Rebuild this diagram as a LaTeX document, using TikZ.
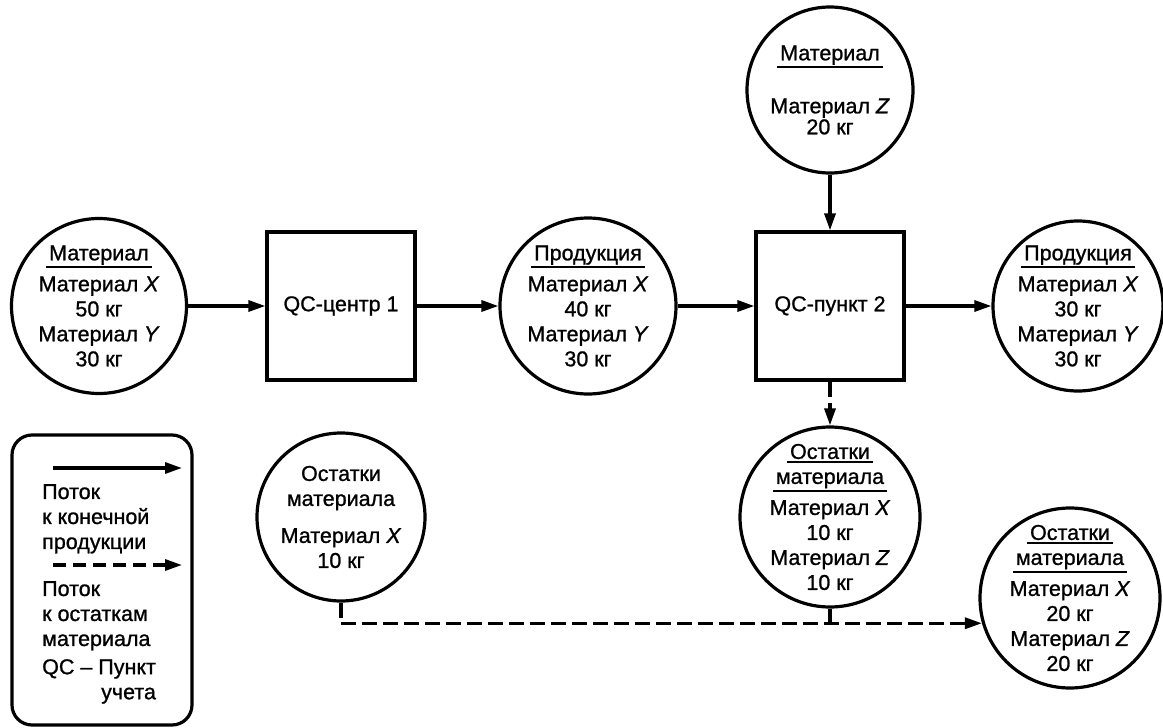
\documentclass[tikz,border=0pt]{standalone}
\usepackage{fontspec}
\setmainfont{Liberation Sans}[UprightFeatures={FakeBold=1},ItalicFeatures={FakeBold=1}]
\usetikzlibrary{arrows.meta}

\newcommand{\hdrline}[1]{\vtop{\hbox{\kern3pt#1\kern3pt}\kern1.5pt\hrule height 2pt}}

\tikzset{
	flow/.style={line width=3.2pt,-{Triangle[length=17pt,width=11pt]}},
	restline/.style={line width=3.2pt,dash pattern=on 15pt off 6pt},
	rest/.style={restline,-{Triangle[length=17pt,width=11pt]}},
	stock/.style={draw,circle,line width=3.2pt,inner sep=-25pt,align=center},
	qc/.style={draw,rectangle,line width=3.2pt,minimum width=148pt,minimum height=148pt}
}

\begin{document}
\begin{tikzpicture}[x=1pt,y=-1pt,font=\fontsize{21.5}{25}\selectfont]
	\useasboundingbox (0,0) rectangle (1163,728);

	% main row
	\node[stock,minimum size=175pt] (mat1) at (99,306) {\hdrline{Материал}\\[6pt]Материал \textit{X}\\50 кг\\Материал \textit{Y}\\30 кг};
	\node[qc] (qc1) at (341,306) {QC-центр 1};
	\node[stock,minimum size=176pt] (prod1) at (588,306) {\hdrline{Продукция}\\[6pt]Материал \textit{X}\\40 кг\\Материал \textit{Y}\\30 кг};
	\node[qc] (qc2) at (830,306) {QC-пункт 2};
	\node[stock,minimum size=170pt] (prod2) at (1078,306) {\hdrline{Продукция}\\[6pt]Материал \textit{X}\\30 кг\\Материал \textit{Y}\\30 кг};
	\node[stock,minimum size=166pt] (mat2) at (830,90) {\hdrline{Материал}\\[28pt]Материал \textit{Z}\\[-4pt]20 кг};

	% remnants
	\node[stock,minimum size=168pt] (rest1) at (341,517) {Остатки\\материала\\[12pt]Материал \textit{X}\\10 кг};
	\node[stock,minimum size=180pt] (rest2) at (830,517) {\hdrline{Остатки}\\\hdrline{материала}\\[6pt]Материал \textit{X}\\10 кг\\Материал \textit{Z}\\10 кг};
	\node[stock,minimum size=180pt] (rest3) at (1070,598) {\hdrline{Остатки}\\\hdrline{материала}\\[6pt]Материал \textit{X}\\20 кг\\Материал \textit{Z}\\20 кг};

	\draw[flow] (mat1) -- (qc1);
	\draw[flow] (qc1) -- (prod1);
	\draw[flow] (prod1) -- (qc2);
	\draw[flow] (qc2) -- (prod2);
	\draw[flow] (mat2) -- (qc2);
	\draw[rest] (qc2) -- (rest2);
	\draw[rest] (rest1.south) |- (rest3.196);
	\draw[restline] (rest2.south) -- (rest2.south |- rest3.196);

	% legend
	\node[draw,rounded corners=20pt,line width=3.2pt,minimum width=180pt,minimum height=290pt] (legend) at (102,580) {};
	\coordinate (solidA) at (53,468);
	\coordinate (solidB) at (182,468);
	\coordinate (dashA) at (53,565);
	\coordinate (dashB) at (182,565);
	\draw[flow] (solidA) -- (solidB);
	\draw[rest,dash pattern=on 13pt off 7pt] (dashA) -- (dashB);
	\node[anchor=north west,inner sep=0pt,align=left] (solidtxt) at (42,484) {Поток\\к конечной\\продукции};
	\node[anchor=north west,inner sep=0pt,align=left] (dashtxt) at (42,581) {Поток\\к остаткам\\материала};
	\node[anchor=north west,inner sep=0pt,align=right] (qctxt) at (42,659) {QC – Пункт\\учета};
\end{tikzpicture}
\end{document}
